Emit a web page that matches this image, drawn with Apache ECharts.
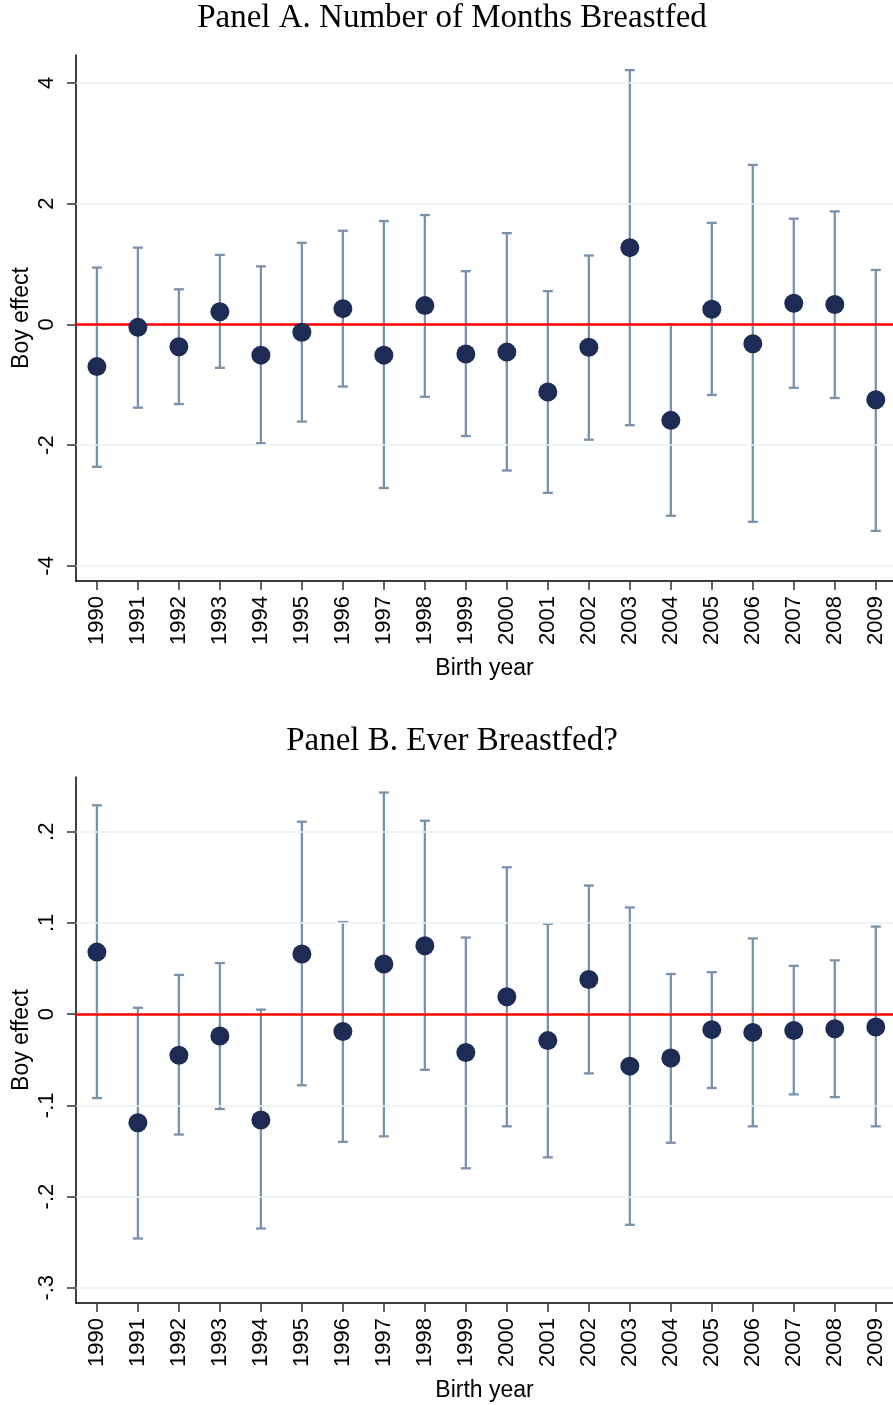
<!DOCTYPE html>
<html>
<head>
<meta charset="utf-8">
<script src="https://cdn.jsdelivr.net/npm/echarts@6/dist/echarts.min.js"></script>
<style>
html,body{margin:0;padding:0;background:#fff;}
#chart{width:893px;height:1405px;}
</style>
</head>
<body>
<div id="chart"></div>
<script>
const years = [1990,1991,1992,1993,1994,1995,1996,1997,1998,1999,2000,2001,2002,2003,2004,2005,2006,2007,2008,2009];

// Panel A: Number of months breastfed
const aPoint = [-0.70,-0.05,-0.37,0.21,-0.51,-0.13,0.26,-0.51,0.31,-0.49,-0.46,-1.12,-0.38,1.27,-1.59,0.25,-0.32,0.35,0.33,-1.25];
const aLow   = [-2.36,-1.38,-1.32,-0.72,-1.97,-1.61,-1.03,-2.71,-1.20,-1.85,-2.42,-2.79,-1.91,-1.67,-3.17,-1.17,-3.27,-1.05,-1.22,-3.42];
const aHigh  = [0.94,1.27,0.58,1.15,0.96,1.35,1.55,1.71,1.81,0.88,1.51,0.55,1.14,4.21,0.00,1.68,2.64,1.75,1.87,0.90];

// Panel B: Ever breastfed?
const bPoint = [0.068,-0.119,-0.045,-0.024,-0.116,0.066,-0.019,0.055,0.075,-0.042,0.019,-0.029,0.038,-0.057,-0.048,-0.017,-0.020,-0.018,-0.016,-0.014];
const bLow   = [-0.092,-0.246,-0.132,-0.104,-0.235,-0.078,-0.140,-0.134,-0.061,-0.169,-0.123,-0.157,-0.065,-0.231,-0.141,-0.081,-0.123,-0.088,-0.091,-0.123];
const bHigh  = [0.229,0.007,0.043,0.056,0.005,0.211,0.101,0.243,0.212,0.084,0.161,0.099,0.141,0.117,0.044,0.046,0.083,0.053,0.059,0.096];

const aTicks = [-4,-2,0,2,4];
const aTickLabels = ['-4','-2','0','2','4'];
const bTicks = [-0.3,-0.2,-0.1,0,0.1,0.2];
const bTickLabels = ['-.3','-.2','-.1','0','.1','.2'];

const titles = ['Panel A. Number of Months Breastfed','Panel B. Ever Breastfed?'];
const xName = 'Birth year';
const yName = 'Boy effect';

const LABEL_FONT = 'Liberation Sans, Arial, sans-serif';
const CI_COLOR = '#7a91ab';
const PT_COLOR = '#1e2b54';
const GRID_COLOR = '#eaf0f3';

function xAxisDef(gi){
  return {
    type:'value', gridIndex:gi, min:1989.49, max:2009.42,
    axisLine:{show:true,onZero:false,lineStyle:{color:'#000',width:1.5}},
    axisTick:{show:true,length:9,inside:false,customValues:years,lineStyle:{color:'#333',width:1.5}},
    axisLabel:{customValues:years,rotate:90,fontSize:22,fontFamily:LABEL_FONT,color:'#000',margin:15,
      formatter:v=>String(Math.round(v))},
    splitLine:{show:false},
    name:xName,nameLocation:'middle',nameGap:76,nameMoveOverlap:false,
    nameTextStyle:{fontSize:23,fontFamily:LABEL_FONT,color:'#000'}
  };
}
function yAxisDef(gi,min,max,ticks,labels){
  return {
    type:'value', gridIndex:gi, min:min, max:max,
    axisLine:{show:true,onZero:false,lineStyle:{color:'#000',width:1.5}},
    axisTick:{show:true,length:9,customValues:ticks,lineStyle:{color:'#333',width:1.5}},
    axisLabel:{customValues:ticks,rotate:90,fontSize:22,fontFamily:LABEL_FONT,color:'#000',margin:18,
      formatter:v=>{const i=ticks.findIndex(t=>Math.abs(t-v)<1e-9);return i>=0?labels[i]:'';}},
    splitLine:{show:false},
    name:yName,nameLocation:'middle',nameGap:43,nameRotate:90,nameMoveOverlap:false,
    nameTextStyle:{fontSize:23,fontFamily:LABEL_FONT,color:'#000'}
  };
}

function errSeries(gi,lo,hi){
  const data = years.map((y,i)=>[y,lo[i],hi[i]]);
  return {
    type:'custom', xAxisIndex:gi, yAxisIndex:gi, z:3,
    data:data,
    renderItem:function(params,api){
      const x=api.value(0);
      const p1=api.coord([x,api.value(1)]);
      const p2=api.coord([x,api.value(2)]);
      const hw=5;
      const st={stroke:CI_COLOR,lineWidth:2.3};
      return {type:'group',children:[
        {type:'line',shape:{x1:p1[0],y1:p1[1],x2:p2[0],y2:p2[1]},style:st},
        {type:'line',shape:{x1:p1[0]-hw,y1:p1[1],x2:p1[0]+hw,y2:p1[1]},style:st},
        {type:'line',shape:{x1:p2[0]-hw,y1:p2[1],x2:p2[0]+hw,y2:p2[1]},style:st}
      ]};
    },
    silent:true
  };
}
function gridSeries(gi,ticks){
  return {
    type:'line', xAxisIndex:gi, yAxisIndex:gi, data:[], z:1, silent:true,
    markLine:{symbol:'none',silent:true,label:{show:false},animation:false,
      lineStyle:{color:GRID_COLOR,width:1.6,type:'solid'},
      data:ticks.map(t=>({yAxis:t}))}
  };
}
function zeroSeries(gi){
  return {
    type:'line', xAxisIndex:gi, yAxisIndex:gi, data:[], z:2, silent:true,
    markLine:{symbol:'none',silent:true,label:{show:false},animation:false,
      lineStyle:{color:'#ff0000',width:2.6,type:'solid'},
      data:[{yAxis:0}]}
  };
}
function ptSeries(gi,pts){
  return {
    type:'scatter', xAxisIndex:gi, yAxisIndex:gi, z:5,
    symbol:'circle', symbolSize:19,
    itemStyle:{color:PT_COLOR,opacity:1},
    data:years.map((y,i)=>[y,pts[i]]),
    silent:true
  };
}

const TITLE_STYLE = {fontFamily:'Liberation Serif, Times New Roman, serif',fontSize:33,fontWeight:'normal',color:'#000'};
const chart = echarts.init(document.getElementById('chart'),null,{renderer:'canvas'});
chart.setOption({
  animation:false,
  backgroundColor:'#fff',
  title:[
    {text:titles[0],left:452,top:2,textAlign:'center',padding:[0,0,0,0],textStyle:TITLE_STYLE},
    {text:titles[1],left:452,top:725,textAlign:'center',padding:[0,0,0,0],textStyle:TITLE_STYLE}
  ],
  grid:[
    {left:76,top:55,width:817,height:526,containLabel:false,outerBoundsMode:'none'},
    {left:76,top:777,width:817,height:526,containLabel:false,outerBoundsMode:'none'}
  ],
  xAxis:[xAxisDef(0),xAxisDef(1)],
  yAxis:[
    yAxisDef(0,-4.25,4.46,aTicks,aTickLabels),
    yAxisDef(1,-0.3167,0.26,bTicks,bTickLabels)
  ],
  series:[
    gridSeries(0,aTicks), zeroSeries(0), errSeries(0,aLow,aHigh), ptSeries(0,aPoint),
    gridSeries(1,bTicks), zeroSeries(1), errSeries(1,bLow,bHigh), ptSeries(1,bPoint)
  ]
});
</script>
</body>
</html>
